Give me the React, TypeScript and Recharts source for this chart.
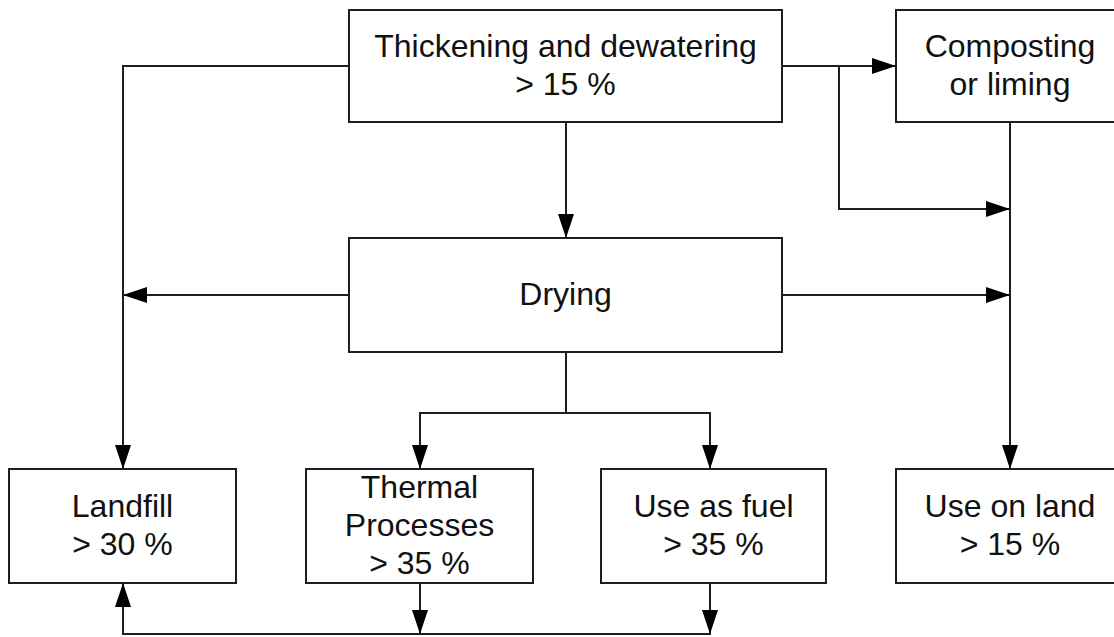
import React from "react";
import {
  ComposedChart,
  XAxis,
  YAxis,
  ReferenceArea,
  ReferenceLine,
  Scatter,
} from "recharts";

// Flowchart nodes (data units map 1:1 onto the 1114 x 637 canvas)
const nodeLabels: string[][] = [
  ["Thickening and dewatering", "> 15 %"],
  ["Composting", "or liming"],
  ["Drying"],
  ["Landfill", "> 30 %"],
  ["Thermal", "Processes", "> 35 %"],
  ["Use as fuel", "> 35 %"],
  ["Use on land", "> 15 %"],
];
const nodeX1 = [349, 896, 349, 9, 306, 601, 896];
const nodeX2 = [782, 1124, 782, 236, 533, 826, 1124];
const nodeY1 = [10, 10, 238, 469, 469, 469, 469];
const nodeY2 = [122, 122, 352, 583, 583, 583, 583];

// Connector segments [x1, y1, x2, y2]
const connectors: number[][] = [
  [349, 66, 123, 66],
  [123, 66, 123, 469],
  [782, 66, 896, 66],
  [839, 66, 839, 209],
  [839, 209, 1010, 209],
  [566, 122, 566, 238],
  [349, 295, 123, 295],
  [782, 295, 1010, 295],
  [1010, 122, 1010, 469],
  [566, 352, 566, 413],
  [420, 413, 710, 413],
  [420, 413, 420, 469],
  [710, 413, 710, 469],
  [420, 583, 420, 634],
  [710, 583, 710, 634],
  [123, 634, 710, 634],
  [123, 634, 123, 583],
];

// Arrow heads: tip position and pointing direction
const arrowX = [123, 896, 1010, 566, 123, 1010, 1010, 420, 710, 420, 710, 123];
const arrowY = [469, 66, 209, 238, 295, 295, 469, 469, 469, 634, 634, 583];
const arrowDir = ["down", "right", "right", "down", "left", "right", "down", "down", "down", "down", "down", "up"];

const arrows = arrowX.map((x, i) => ({ x, y: arrowY[i], dir: arrowDir[i] }));

const INK = "#1e1e1e";
const FONT = "'Liberation Sans', Arial, Helvetica, sans-serif";

const ArrowHead = (props: any) => {
  const { cx, cy, payload } = props;
  if (cx == null || cy == null) return null;
  const L = 24;
  const W = 8;
  let pts = "";
  switch (payload.dir) {
    case "down":
      pts = `${cx},${cy} ${cx - W},${cy - L} ${cx + W},${cy - L}`;
      break;
    case "up":
      pts = `${cx},${cy} ${cx - W},${cy + L} ${cx + W},${cy + L}`;
      break;
    case "right":
      pts = `${cx},${cy} ${cx - L},${cy - W} ${cx - L},${cy + W}`;
      break;
    default:
      pts = `${cx},${cy} ${cx + L},${cy - W} ${cx + L},${cy + W}`;
  }
  return <polygon points={pts} fill="#000" stroke="none" />;
};

const BoxLabel = (props: any) => {
  const { viewBox, lines } = props;
  if (!viewBox) return null;
  const cx = viewBox.x + viewBox.width / 2;
  const cy = viewBox.y + viewBox.height / 2;
  const n = lines.length;
  const step = 38;
  return (
    <text
      fontFamily={FONT}
      fontSize={32}
      fill="#111"
      textAnchor="middle"
    >
      {lines.map((ln: string, i: number) => (
        <tspan key={i} x={cx} y={cy + (i - (n - 1) / 2) * step + 10}>
          {ln}
        </tspan>
      ))}
    </text>
  );
};

export default function App() {
  return (
    <div style={{ position: "absolute", left: 0, top: 0, background: "#fff" }}>
      <ComposedChart
        width={1114}
        height={637}
        margin={{ top: 0, right: 0, bottom: 0, left: 0 }}
        data={arrows}
      >
        <XAxis type="number" dataKey="x" domain={[0, 1114]} hide allowDataOverflow />
        <YAxis type="number" dataKey="y" domain={[0, 637]} reversed hide allowDataOverflow />
        {connectors.map((c, i) => (
          <ReferenceLine
            key={`c${i}`}
            segment={[
              { x: c[0], y: c[1] },
              { x: c[2], y: c[3] },
            ]}
            stroke={INK}
            strokeWidth={2}
            strokeLinecap="square"
            ifOverflow="visible"
          />
        ))}
        {nodeLabels.map((lines, i) => (
          <ReferenceArea
            key={`n${i}`}
            x1={nodeX1[i]}
            x2={nodeX2[i]}
            y1={nodeY1[i]}
            y2={nodeY2[i]}
            fill="#fff"
            fillOpacity={1}
            stroke={INK}
            strokeWidth={2}
            ifOverflow="visible"
            label={<BoxLabel lines={lines} />}
          />
        ))}
        <Scatter
          data={arrows}
          isAnimationActive={false}
          shape={(p: any) => <ArrowHead {...p} />}
        />
      </ComposedChart>
    </div>
  );
}
